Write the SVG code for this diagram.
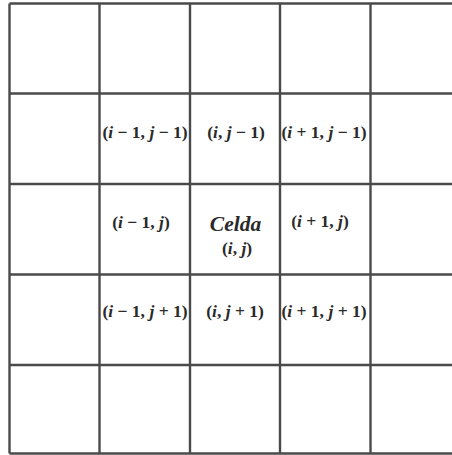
<svg xmlns="http://www.w3.org/2000/svg" width="452" height="455" viewBox="0 0 452 455">
<style>
.g{stroke:#4a4a4a;stroke-width:2.4;fill:none}
.t{font-family:"Liberation Serif","DejaVu Serif",serif;font-weight:bold;font-size:17.5px;fill:#2a2a2a}
.v{font-style:italic}
.c{font-size:21.5px}
</style>
<rect width="452" height="455" fill="#fff"/>
<g id="grid">
<line class="g" x1="9.5" y1="3.5" x2="452" y2="3.5"/>
<line class="g" x1="9.5" y1="93.5" x2="452" y2="93.5"/>
<line class="g" x1="9.5" y1="184" x2="452" y2="184"/>
<line class="g" x1="9.5" y1="274.5" x2="452" y2="274.5"/>
<line class="g" x1="9.5" y1="365" x2="452" y2="365"/>
<line class="g" x1="9.5" y1="453.5" x2="452" y2="453.5"/>
<line class="g" x1="9.5" y1="3.5" x2="9.5" y2="453.5"/>
<line class="g" x1="99.5" y1="3.5" x2="99.5" y2="453.5"/>
<line class="g" x1="190" y1="3.5" x2="190" y2="453.5"/>
<line class="g" x1="280" y1="3.5" x2="280" y2="453.5"/>
<line class="g" x1="370.5" y1="3.5" x2="370.5" y2="453.5"/>
</g>
<g id="labels">
<text class="t" x="145" y="138" text-anchor="middle">(<tspan class="v">i</tspan> − 1, <tspan class="v">j</tspan> − 1)</text>
<text class="t" x="236" y="138" text-anchor="middle">(<tspan class="v">i</tspan>, <tspan class="v">j</tspan> − 1)</text>
<text class="t" x="324" y="138" text-anchor="middle">(<tspan class="v">i</tspan> + 1, <tspan class="v">j</tspan> − 1)</text>
<text class="t" x="141" y="228" text-anchor="middle">(<tspan class="v">i</tspan> − 1, <tspan class="v">j</tspan>)</text>
<text class="t v c" x="235.5" y="231" text-anchor="middle">Celda</text>
<text class="t" x="237" y="254" text-anchor="middle">(<tspan class="v">i</tspan>, <tspan class="v">j</tspan>)</text>
<text class="t" x="320" y="227" text-anchor="middle">(<tspan class="v">i</tspan> + 1, <tspan class="v">j</tspan>)</text>
<text class="t" x="145" y="317" text-anchor="middle">(<tspan class="v">i</tspan> − 1, <tspan class="v">j</tspan> + 1)</text>
<text class="t" x="235" y="317" text-anchor="middle">(<tspan class="v">i</tspan>, <tspan class="v">j</tspan> + 1)</text>
<text class="t" x="324" y="317" text-anchor="middle">(<tspan class="v">i</tspan> + 1, <tspan class="v">j</tspan> + 1)</text>
</g>
</svg>
